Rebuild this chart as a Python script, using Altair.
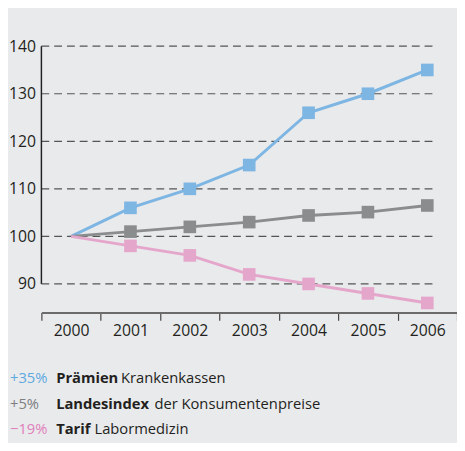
import altair as alt
import pandas as pd

years = ["2000", "2001", "2002", "2003", "2004", "2005", "2006"]
praemien = [100, 106, 110, 115, 126, 130, 135]
landesindex = [100, 101, 102, 103, 104.4, 105.1, 106.5]
tarif = [100, 98, 96, 92, 90, 88, 86]
series_names = ["Prämien", "Landesindex", "Tarif"]
series_colors = ["#7db5e3", "#8b8c8e", "#e5a6cb"]
pct_colors = ["#5ea9e0", "#7d7e80", "#e07fbb"]
y_ticks = [90, 100, 110, 120, 130, 140]

legend_pct = ["+35%", "+5%", "\u221219%"]
legend_bold = ["Prämien", "Landesindex", "Tarif"]
legend_rest = ["Krankenkassen", "der Konsumentenpreise", "Labormedizin"]

# layout (pixel placement of the text legend)
legend_y = [343, 369, 395]
legend_rest_x = [81, 115, 54]

FONT = "Open Sans"
TEXT = "#231f20"

rows = []
for name, vals in zip(series_names, [praemien, landesindex, tarif]):
    for yr, v in zip(years, vals):
        rows.append({"year": yr, "value": v, "series": name})
df = pd.DataFrame(rows)

yscale = alt.Scale(domain=[84, 140], nice=False, zero=False)
xscale = alt.Scale(type="band", domain=years, paddingInner=0, paddingOuter=0)
cscale = alt.Scale(domain=series_names, range=series_colors)

yaxis = alt.Axis(
    title=None, values=y_ticks, grid=False, domain=False, ticks=False,
    labelPadding=6, labelFontSize=16, labelFont=FONT, labelColor=TEXT,
)
xaxis = alt.Axis(
    title=None, labelAngle=0, tickBand="extent", domainColor="#6b6b6b",
    domainWidth=2, tickColor="#444444", tickSize=8, tickWidth=1.2,
    labelPadding=2, labelFontSize=16, labelFont=FONT, labelColor=TEXT,
)

grid = alt.Chart(pd.DataFrame({"v": y_ticks})).mark_rule(
    color="#555555", strokeWidth=1.2, strokeDash=[8, 5]
).encode(
    y=alt.Y("v:Q", scale=yscale, axis=yaxis),
    x=alt.value(0),
    x2=alt.value(402),
)

yaxis_line = alt.Chart(pd.DataFrame({"lo": [y_ticks[0]], "hi": [y_ticks[-1]]})).mark_rule(
    color="#222222", strokeWidth=1.5
).encode(
    y=alt.Y("lo:Q", scale=yscale, axis=yaxis),
    y2="hi:Q",
    x=alt.value(0),
)

lines = alt.Chart(df).mark_line(strokeWidth=3).encode(
    x=alt.X("year:O", scale=xscale, axis=xaxis),
    y=alt.Y("value:Q", scale=yscale, axis=yaxis),
    color=alt.Color("series:N", scale=cscale, legend=None),
    order=alt.Order("year:O"),
    detail="series:N",
)

markers = alt.Chart(df).transform_filter(
    alt.datum.year != years[0]
).mark_square(size=165, opacity=1).encode(
    x=alt.X("year:O", scale=xscale, axis=xaxis),
    y=alt.Y("value:Q", scale=yscale, axis=yaxis),
    color=alt.Color("series:N", scale=cscale, legend=None),
)

leg = pd.DataFrame({
    "pct": legend_pct, "bold": legend_bold, "rest": legend_rest,
    "color": pct_colors, "ly": legend_y, "rx": legend_rest_x,
})

pct_text = alt.Chart(leg).mark_text(
    align="left", baseline="alphabetic", font=FONT, fontSize=15
).encode(
    x=alt.value(-32), y=alt.Y("ly:Q", scale=None), text="pct:N",
    color=alt.Color("color:N", scale=None),
)
bold_text = alt.Chart(leg).mark_text(
    align="left", baseline="alphabetic", font=FONT, fontSize=15, fontWeight="bold", color=TEXT
).encode(
    x=alt.value(15), y=alt.Y("ly:Q", scale=None), text="bold:N",
)
rest_text = alt.Chart(leg).mark_text(
    align="left", baseline="alphabetic", font=FONT, fontSize=15, color=TEXT
).encode(
    x=alt.X("rx:Q", scale=None), y=alt.Y("ly:Q", scale=None), text="rest:N",
)

chart = alt.layer(grid, yaxis_line, lines, markers, pct_text, bold_text, rest_text).properties(
    width=423, height=271,
    padding={"left": 34, "top": 35, "right": 0, "bottom": 129},
    autosize=alt.AutoSizeParams(type="none"),
    background="#e9eaec",
).configure_view(stroke=None)

chart.save("out.html", embed_options={"renderer": "svg", "actions": False})
